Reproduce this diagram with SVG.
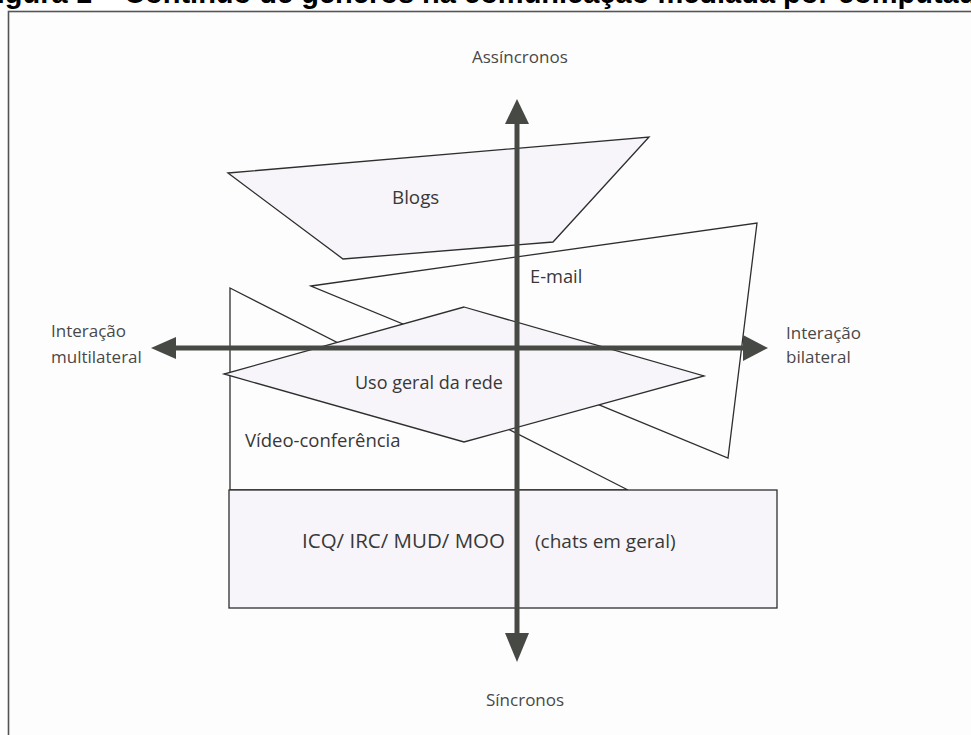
<svg xmlns="http://www.w3.org/2000/svg" width="971" height="735" viewBox="0 0 971 735">
<defs>
<style>
.title{font-family:"Liberation Sans",Arial,sans-serif;font-weight:bold;font-size:29px;fill:#000}
.lbl{font-family:"Open Sans","Noto Sans",sans-serif;fill:#383838}
.ax{font-family:"Open Sans","Noto Sans",sans-serif;fill:#484848;font-size:17px}
.shape{stroke:#2e2e2e;stroke-width:1.3;stroke-linejoin:miter}
.tint{fill:#f7f5f9}
.blank{fill:#fefdfe}
.axis{stroke:#464944;stroke-width:5;fill:none}
.head{fill:#464944}
</style>
</defs>
<rect x="0" y="0" width="971" height="735" fill="#ffffff"/>
<text class="title" x="-21" y="3">Figura 1 – Contínuo de gêneros na comunicação mediada por computador</text>
<rect x="8.5" y="11.5" width="1000" height="800" fill="#fefdfe" stroke="#555" stroke-width="1.6"/>

<g id="video">
<polygon class="shape blank" points="230,288 628,490 230,490"/>
<text class="lbl" x="245" y="447" font-size="18.5">Vídeo-conferência</text>
</g>
<g id="email">
<polygon class="shape blank" points="311,286 757,223 728,458"/>
<text class="lbl" x="530" y="283" font-size="18.3">E-mail</text>
</g>
<g id="blogs">
<polygon class="shape tint" points="228,173 649,137 553,242 343,259"/>
<text class="lbl" x="392" y="204" font-size="18.8">Blogs</text>
</g>
<g id="uso">
<polygon class="shape tint" points="464,307 704,376 464,442 224,374"/>
<text class="lbl" x="355" y="389" font-size="18">Uso geral da rede</text>
</g>
<g id="chats">
<rect class="shape tint" x="229" y="490" width="548" height="118"/>
<text class="lbl" x="302" y="548" font-size="20.5">ICQ/ IRC/ MUD/ MOO</text>
<text class="lbl" x="535" y="548" font-size="19">(chats em geral)</text>
</g>

<g id="connectors">
<line class="axis" x1="517" y1="120" x2="517" y2="636"/>
<polygon class="head" points="517,99 505,124 529,124"/>
<polygon class="head" points="517,662 505,633 529,633"/>
<line class="axis" x1="172" y1="348" x2="746" y2="348"/>
<polygon class="head" points="151,348 176,337 176,359"/>
<polygon class="head" points="768,348 743,335 743,361"/>
</g>

<g id="axis-labels">
<text class="ax" x="472" y="63" font-size="19.8">Assíncronos</text>
<text class="ax" x="486" y="706" font-size="19.3">Síncronos</text>
<text class="ax" x="51" y="337" font-size="17.5">Interação</text>
<text class="ax" x="51" y="363">multilateral</text>
<text class="ax" x="786" y="339" font-size="17.3">Interação</text>
<text class="ax" x="786" y="363">bilateral</text>
</g>
</svg>
